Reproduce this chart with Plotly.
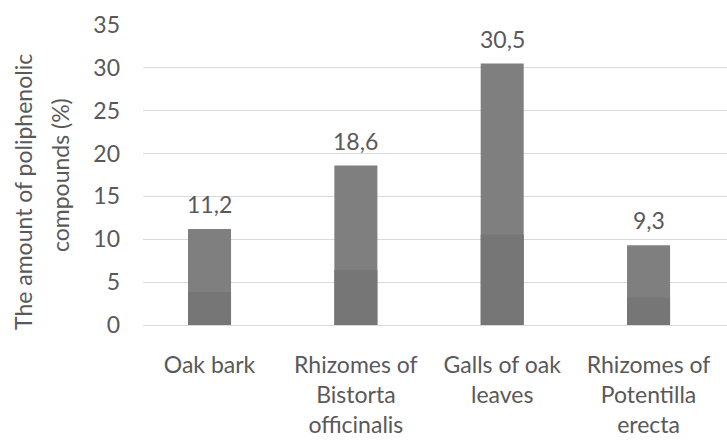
import plotly.graph_objects as go

# Polyphenolic compound content by plant material
categories = [
    "Oak bark",
    "Rhizomes of<br>Bistorta<br>officinalis",
    "Galls of oak<br>leaves",
    "Rhizomes of<br>Potentilla<br>erecta",
]
values = [11.2, 18.6, 30.5, 9.3]
y_ticks = [0, 5, 10, 15, 20, 25, 30, 35]
title_lines = ["The amount of poliphenolic", "compounds (%)"]

# the lower part of each bar is shaded a little darker
shade_fraction = 0.345
x_pos = list(range(len(categories)))

FONT = "Lato"
SIZE = 23
TEXT = "#595959"
GRID = "#d9d9d9"
L, R, T, B = 143, 0, 25, 121
PLOT_W = 727 - L - R

fig = go.Figure()
fig.add_trace(go.Bar(
    x=x_pos, y=values, width=0.294,
    marker=dict(color="#7f7f7f", line=dict(width=0)),
    hoverinfo="skip",
))
fig.add_trace(go.Bar(
    x=x_pos, y=[v * shade_fraction for v in values], width=0.294,
    marker=dict(color="#767676", line=dict(width=0)),
    hoverinfo="skip",
))

# value labels above the bars, decimal comma
for xi, v in zip(x_pos, values):
    fig.add_annotation(
        x=xi, y=v, xref="x", yref="y",
        text=f"{v:.1f}".replace(".", ","),
        showarrow=False, yanchor="bottom", yshift=9,
        font=dict(family=FONT, size=SIZE, color=TEXT),
    )

# two-line vertical axis title
for px, py, line in zip([23, 60], [192, 175], title_lines):
    fig.add_annotation(
        x=(px - L) / PLOT_W, y=1 - (py - T) / (446 - T - B),
        xref="paper", yref="paper",
        text=line, textangle=-90, showarrow=False,
        xanchor="center", yanchor="middle",
        font=dict(family=FONT, size=SIZE, color=TEXT),
    )

fig.update_layout(
    width=727, height=446,
    margin=dict(l=L, r=R, t=T, b=B),
    paper_bgcolor="white", plot_bgcolor="white",
    barmode="overlay", showlegend=False,
    font=dict(family=FONT, size=SIZE, color=TEXT),
    xaxis=dict(
        range=[-0.4545, 3.536],
        tickmode="array", tickvals=x_pos, ticktext=categories,
        showgrid=False, zeroline=False,
        showline=False, ticks="",
        ticklabelstandoff=24,
        tickfont=dict(family=FONT, size=SIZE, color=TEXT),
    ),
    yaxis=dict(
        range=[0, 35], tickmode="array", tickvals=y_ticks,
        showgrid=True, gridcolor=GRID, gridwidth=1,
        zeroline=True, zerolinecolor=GRID, zerolinewidth=1,
        showline=False, ticks="",
        ticklabelstandoff=22,
        tickfont=dict(family=FONT, size=SIZE, color=TEXT),
    ),
)

fig.write_html("out.html")
